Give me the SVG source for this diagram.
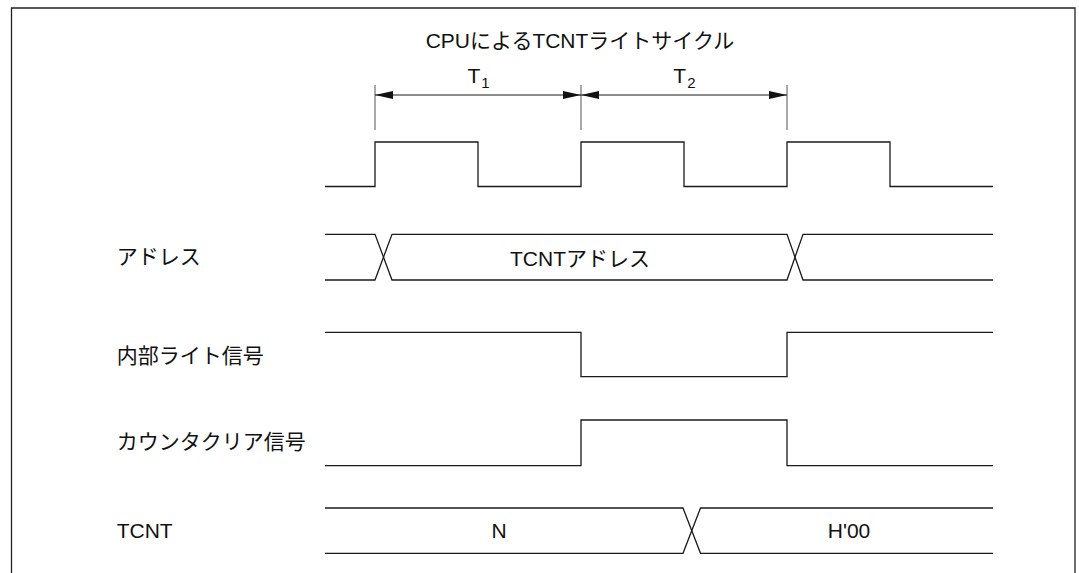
<svg xmlns="http://www.w3.org/2000/svg" width="1079" height="573" viewBox="0 0 1079 573">
<style>
.w{fill:none;stroke:#1a1a1a;stroke-width:1.3;stroke-linejoin:miter}
.tk{fill:none;stroke:#555;stroke-width:1}
.dim{fill:none;stroke:#1a1a1a;stroke-width:1}
text{font-family:"Liberation Sans","Noto Sans CJK JP",sans-serif;font-size:21px;fill:#111}
.c{text-anchor:middle}
.sub{font-size:15px}
</style>
<defs>
<marker id="ah" viewBox="0 0 18 8" refX="18" refY="4" markerWidth="18" markerHeight="8" markerUnits="userSpaceOnUse" orient="auto-start-reverse">
<path d="M0,0 L18,4 L0,8 Z" fill="#111"/>
</marker>
</defs>
<rect x="0" y="0" width="1079" height="573" fill="#fff"/>
<path d="M11.5,573 V8 H1075 V573" fill="none" stroke="#222" stroke-width="1.3"/>
<g id="title"><text class="c" x="580" y="48">CPUによるTCNTライトサイクル</text></g>
<g id="dimensions">
<path class="tk" d="M375,85 V130 M581,85 V130 M787,85 V130"/>
<line class="dim" x1="375" y1="95" x2="581" y2="95" marker-start="url(#ah)" marker-end="url(#ah)"/>
<line class="dim" x1="581" y1="95" x2="787" y2="95" marker-start="url(#ah)" marker-end="url(#ah)"/>
<text x="467.5" y="83">T<tspan class="sub" dx="1" dy="5">1</tspan></text>
<text x="673.3" y="83">T<tspan class="sub" dx="1" dy="5">2</tspan></text>
</g>
<g id="clock">
<path class="w" d="M325,186.5 H375 V142 H478 V186.5 H581 V142 H684 V186.5 H787 V142 H890 V186.5 H993"/>
</g>
<g id="address">
<text x="116.7" y="264">アドレス</text>
<path class="w" d="M325,234.3 H375 L392,280 H787 L803,234.3 H993"/>
<path class="w" d="M325,280 H375 L392,234.3 H787 L803,280 H993"/>
<text class="c" x="580" y="266">TCNTアドレス</text>
</g>
<g id="write">
<text x="116.7" y="363">内部ライト信号</text>
<path class="w" d="M325,332.3 H581 V376.7 H787 V332.3 H993"/>
</g>
<g id="clear">
<text x="116.7" y="449">カウンタクリア信号</text>
<path class="w" d="M325,465.7 H581 V420 H787 V465.7 H993"/>
</g>
<g id="tcnt">
<text x="116.7" y="538">TCNT</text>
<path class="w" d="M325,508 H683 L700.5,553.3 H993"/>
<path class="w" d="M325,553.3 H683 L700.5,508 H993"/>
<text class="c" x="499" y="537.5">N</text>
<text class="c" x="849" y="538">H'00</text>
</g>
</svg>
